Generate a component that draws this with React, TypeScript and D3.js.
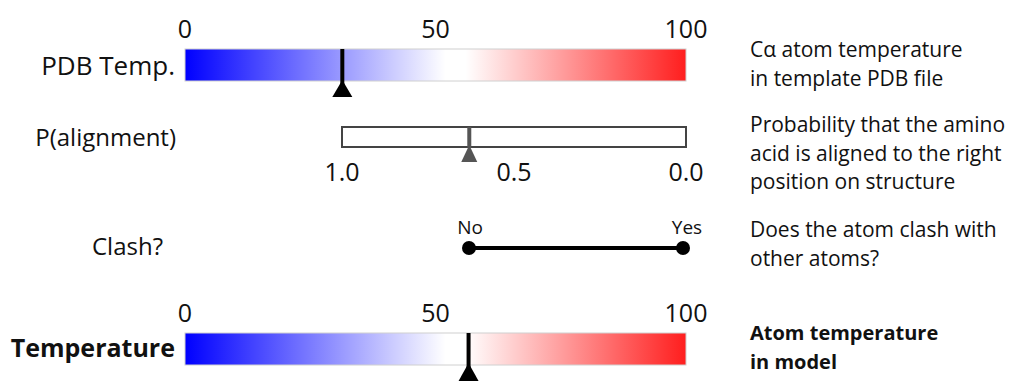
import React from "react";
import * as d3 from "d3";

const tempTicks = [0, 50, 100];
const pdbTempValue = 31.4;
const modelTempValue = 56.6;
const probTicks = [1.0, 0.5, 0.0];
const probValue = 0.63;
const clashCategories = ["No", "Yes"];
const rowLabels = ["PDB Temp.", "P(alignment)", "Clash?", "Temperature"];
const descPdb = ["Cα atom temperature", "in template PDB file"];
const descProb = ["Probability that the amino", "acid is aligned to the right", "position on structure"];
const descClash = ["Does the atom clash with", "other atoms?"];
const descModel = ["Atom temperature", "in model"];

const W = 1013;
const H = 381;
const FONT = "'Open Sans', 'Segoe UI', sans-serif";

export default function App() {
  const tX = d3.scaleLinear().domain([0, 100]).range([185, 686]);
  const pX = d3.scaleLinear().domain([1, 0]).range([342, 686]);
  const cX = d3.scalePoint().domain(clashCategories).range([469, 683]);

  const tri = (x: number, apex: number, base: number, half: number) =>
    d3.line()([[x, apex], [x + half, base], [x - half, base]]) + "Z";

  const descBlock = (lines: string[], y0: number, bold = false) =>
    lines.map((l, i) => (
      <text key={l} x={750} y={y0 + i * 28.5} fontSize={bold ? 20 : 21} fontWeight={bold ? 700 : 400} fill="#111">
        {l}
      </text>
    ));

  return (
    <svg width={W} height={H} style={{ position: "absolute", left: 0, top: 0, background: "#fff" }} fontFamily={FONT}>
      <defs>
        <linearGradient id="tempGrad" x1="0" x2="1" y1="0" y2="0">
          <stop offset="0" stopColor="#0000ff" />
          <stop offset="0.52" stopColor="#ffffff" />
          <stop offset="0.56" stopColor="#ffffff" />
          <stop offset="1" stopColor="#ff1e1e" />
        </linearGradient>
      </defs>

      {/* Row labels */}
      <text x={175} y={75} textAnchor="end" fontSize={26} fill="#111">{rowLabels[0]}</text>
      <text x={176} y={146} textAnchor="end" fontSize={24} fill="#111">{rowLabels[1]}</text>
      <text x={163} y={255} textAnchor="end" fontSize={24} fill="#111">{rowLabels[2]}</text>
      <text x={175} y={357} textAnchor="end" fontSize={25} fontWeight={700} fill="#111">{rowLabels[3]}</text>

      {/* PDB temp bar */}
      {tempTicks.map((t) => (
        <text key={"t" + t} x={tX(t)} y={38} textAnchor="middle" fontSize={25} fill="#111">{t}</text>
      ))}
      <rect x={tX(0)} y={49} width={tX(100) - tX(0)} height={32} fill="url(#tempGrad)" stroke="#d0d0d0" strokeWidth={1} />
      <line x1={tX(pdbTempValue)} x2={tX(pdbTempValue)} y1={49} y2={86} stroke="#000" strokeWidth={4} />
      <path d={tri(tX(pdbTempValue), 80, 97, 10)} fill="#000" />

      {/* P(alignment) bar */}
      <rect x={pX(1)} y={127} width={pX(0) - pX(1)} height={20} fill="#fff" stroke="#444" strokeWidth={2} />
      <line x1={pX(probValue)} x2={pX(probValue)} y1={127} y2={148} stroke="#555" strokeWidth={4} />
      <path d={tri(pX(probValue), 145, 162, 8)} fill="#555" />
      {probTicks.map((t) => (
        <text key={"p" + t} x={pX(t)} y={181} textAnchor="middle" fontSize={25} fill="#111">{t.toFixed(1)}</text>
      ))}

      {/* Clash */}
      <line x1={cX("No")!} x2={cX("Yes")!} y1={248} y2={248} stroke="#000" strokeWidth={4} />
      {clashCategories.map((c) => (
        <g key={c}>
          <circle cx={cX(c)!} cy={248} r={7} fill="#000" />
          <text x={cX(c)! + (c === "Yes" ? 4 : 1)} y={234} textAnchor="middle" fontSize={19} fill="#111">{c}</text>
        </g>
      ))}

      {/* Model temperature bar */}
      {tempTicks.map((t) => (
        <text key={"b" + t} x={tX(t)} y={322} textAnchor="middle" fontSize={25} fill="#111">{t}</text>
      ))}
      <rect x={tX(0)} y={333} width={tX(100) - tX(0)} height={32} fill="url(#tempGrad)" stroke="#d0d0d0" strokeWidth={1} />
      <line x1={tX(modelTempValue)} x2={tX(modelTempValue)} y1={333} y2={370} stroke="#000" strokeWidth={4} />
      <path d={tri(tX(modelTempValue), 363, 381, 10)} fill="#000" />

      {/* Descriptions */}
      {descBlock(descPdb, 57)}
      {descBlock(descProb, 132)}
      {descBlock(descClash, 237)}
      {descBlock(descModel, 340, true)}
    </svg>
  );
}
